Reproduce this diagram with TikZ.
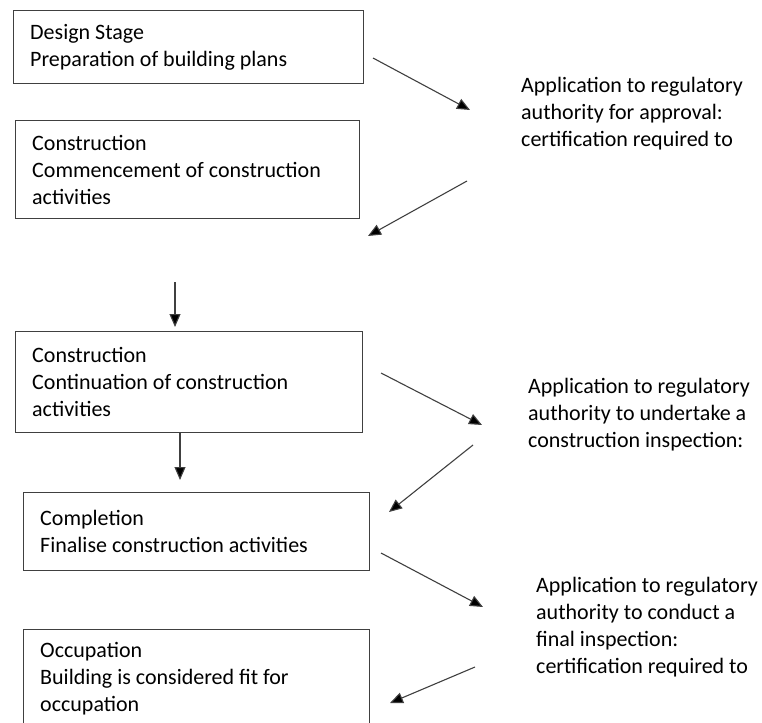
\documentclass[tikz,border=0pt]{standalone}
\usepackage{fontspec}
\setmainfont{Carlito}
\usetikzlibrary{arrows.meta}

\tikzset{
  stagebox/.style={draw=black!75, line width=1.4pt, anchor=north west,
    inner xsep=16.5pt, align=flush left, font=\fontsize{22}{27}\selectfont},
  note/.style={anchor=north west, inner sep=0pt, align=left,
    font=\fontsize{22}{27}\selectfont},
  flow/.style={draw=black!75, line width=1.1pt,
    -{Triangle[length=13pt,width=11pt,fill=black]}}
}

\begin{document}
\begin{tikzpicture}[x=1pt,y=-1pt]

% Page frame
\useasboundingbox (0,0) rectangle (762,722);

% Stage boxes down the left
\node[stagebox, text width=317pt, minimum height=73pt] (design) at (13,10)
  {Design Stage\\Preparation of building plans};
\node[stagebox, text width=311pt, minimum height=98pt] (commence) at (15,120)
  {Construction\\Commencement of construction\\activities};
\node[stagebox, text width=314pt, minimum height=101pt] (continue) at (15,331)
  {Construction\\Continuation of construction\\activities};
\node[stagebox, text width=313pt, minimum height=78pt] (complete) at (23,492)
  {Completion\\Finalise construction activities};
\node[stagebox, text width=313pt, minimum height=98pt] (occupy) at (23,629)
  {Occupation\\Building is considered fit for\\occupation};

% Applications to the authority on the right
\node[note] (approval) at (521,77)
  {Application to regulatory\\authority for approval:\\certification required to};
\node[note] (inspect) at (528,378)
  {Application to regulatory\\authority to undertake a\\construction inspection:};
\node[note] (final) at (536,577)
  {Application to regulatory\\authority to conduct a\\final inspection:\\certification required to};

% Arrow end points
\coordinate (a1s) at (373,58);  \coordinate (a1e) at (470,110);
\coordinate (a2s) at (467,181); \coordinate (a2e) at (368,236);
\coordinate (d1s) at (175,282); \coordinate (d1e) at (175,327);
\coordinate (d2e) at (180,480);
\coordinate (a3s) at (381,373); \coordinate (a3e) at (482,425);
\coordinate (a4s) at (473,445); \coordinate (a4e) at (389,512);
\coordinate (a5s) at (381,553); \coordinate (a5e) at (483,607);
\coordinate (a6s) at (475,667); \coordinate (a6e) at (390,703);

% Arrows
\draw[flow] (a1s) -- (a1e);
\draw[flow] (a2s) -- (a2e);
\draw[flow] (d1s) -- (d1e);
\draw[flow] (continue.south -| d2e) -- (d2e);
\draw[flow] (a3s) -- (a3e);
\draw[flow] (a4s) -- (a4e);
\draw[flow] (a5s) -- (a5e);
\draw[flow] (a6s) -- (a6e);

\end{tikzpicture}
\end{document}
